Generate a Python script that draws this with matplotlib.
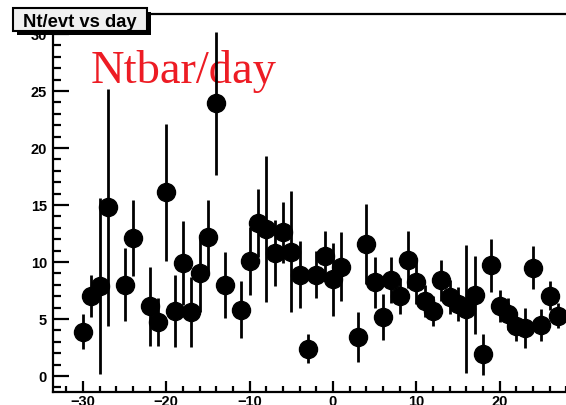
import matplotlib
matplotlib.use("Agg")
import matplotlib.pyplot as plt
from matplotlib.ticker import MultipleLocator
from matplotlib.patches import Rectangle

days = [-30, -29, -28, -27, -25, -24, -22, -21, -20, -19, -18, -17, -16, -15, -14, -13,
        -11, -10, -9, -8, -7, -6, -5, -4, -3, -2, -1, 0, 1, 3, 4, 5, 6, 7, 8, 9, 10,
        11, 12, 13, 14, 15, 16, 17, 18, 19, 20, 21, 22, 23, 24, 25, 26, 27]
values = [3.9, 7.0, 7.9, 14.8, 8.0, 12.1, 6.1, 4.7, 16.1, 5.7, 9.9, 5.6, 9.0, 12.2, 23.9, 8.0,
          5.8, 10.1, 13.4, 12.9, 10.8, 12.6, 10.9, 8.9, 2.4, 8.9, 10.5, 8.5, 9.6, 3.4, 11.6, 8.2,
          5.15, 8.4, 7.0, 10.2, 8.2, 6.6, 5.7, 8.4, 6.9, 6.3, 5.9, 7.1, 1.9, 9.7, 6.1, 5.45,
          4.35, 4.2, 9.5, 4.5, 7.05, 5.3]
errors = [1.5, 1.85, 7.7, 10.4, 3.2, 3.3, 3.5, 2.1, 6.0, 3.2, 3.7, 3.1, 3.4, 3.2, 6.3, 2.9,
          2.5, 3.0, 3.0, 6.4, 2.9, 2.7, 5.3, 2.95, 1.3, 2.1, 2.2, 3.2, 3.0, 2.2, 3.5, 2.2,
          2.0, 2.0, 1.6, 2.5, 1.9, 1.4, 1.3, 1.8, 1.5, 1.5, 5.6, 3.45, 1.8, 2.3, 1.4, 1.4,
          1.3, 1.75, 1.9, 1.4, 1.3, 1.1]

title = "Nt/evt vs day"
label = "Ntbar/day"

W, H = 566, 406
fig = plt.figure(figsize=(W / 100, H / 100), dpi=100)
fig.patch.set_facecolor("white")

ax_l, ax_r, ax_t, ax_b = 53, 572, 15, 392.7
ax = fig.add_axes([ax_l / W, (H - ax_b) / H, (ax_r - ax_l) / W, (ax_b - ax_t) / H])
ax.set_xlim(-33.6, 28.7)
ax.set_ylim(-1.38, 31.75)

ax.errorbar(days, values, yerr=errors, fmt="o", color="black", ms=13,
            elinewidth=2.0, capsize=0, zorder=3)

for s in ["left", "bottom", "top"]:
    ax.spines[s].set_linewidth(1.6)
ax.spines["right"].set_visible(False)

ax.xaxis.set_major_locator(MultipleLocator(10))
ax.xaxis.set_minor_locator(MultipleLocator(2))
ax.yaxis.set_major_locator(MultipleLocator(5))
ax.yaxis.set_minor_locator(MultipleLocator(1))
ax.tick_params(axis="x", which="major", direction="in", length=8, width=1.6, pad=2.0)
ax.tick_params(axis="x", which="minor", direction="in", length=4, width=1.6)
ax.tick_params(axis="y", which="major", direction="in", length=11.5, width=1.6, pad=4.3)
ax.tick_params(axis="y", which="minor", direction="in", length=6, width=1.6)
for lab in ax.get_xticklabels() + ax.get_yticklabels():
    lab.set_fontfamily("Liberation Sans")
    lab.set_fontweight("bold")
    lab.set_fontsize(10.5)

# red label under the data
ax.text(91.0 / W, (H - 83) / H, label, transform=fig.transFigure, color="#ed1c24",
        fontfamily="Liberation Serif", fontsize=33.5, ha="left", va="baseline", zorder=1)

# title box with shadow
bx0, bx1, by0, by1 = 12.7, 146.7, 9, 31.7
sh = 4
fig.patches.append(Rectangle(((bx0 + sh) / W, (H - by1 - sh) / H), (bx1 - bx0) / W,
                             (by1 - by0) / H, transform=fig.transFigure,
                             facecolor="black", edgecolor="none", zorder=5))
fig.patches.append(Rectangle((bx0 / W, (H - by1) / H), (bx1 - bx0) / W, (by1 - by0) / H,
                             transform=fig.transFigure, facecolor="#f0f0f0",
                             edgecolor="black", linewidth=1.5, zorder=6))
fig.text((bx0 + bx1) / 2 / W, (H - 26.7) / H, title, ha="center", va="baseline",
         fontfamily="Liberation Sans", fontweight="bold", fontsize=13.2, zorder=7)

fig.savefig("out.png", dpi=100)
